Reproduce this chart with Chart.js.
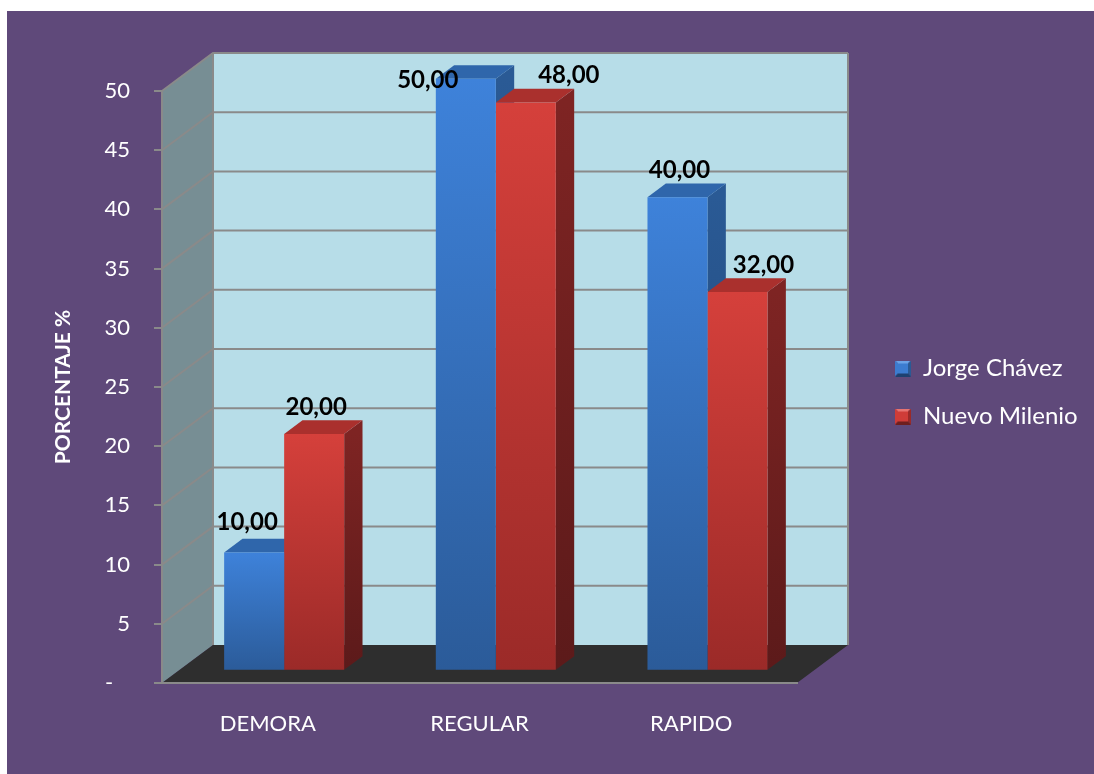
<!DOCTYPE html>
<html>
<head>
<meta charset="utf-8">
<script src="https://cdn.jsdelivr.net/npm/chart.js@4.4.1/dist/chart.umd.min.js"></script>
<style>
  html, body { margin: 0; background: #fff; }
  #marco { position: absolute; left: 7px; top: 11px; width: 1087px; height: 763px; background: #5f497a; }
</style>
</head>
<body>
<div id="marco"><canvas id="grafico"></canvas></div>
<script>
// datos
const categorias = ['DEMORA', 'REGULAR', 'RAPIDO'];
const jorgeChavez = [10, 50, 40];
const nuevoMilenio = [20, 48, 32];
const nombresSeries = ['Jorge Chávez', 'Nuevo Milenio'];
const yMax = 50;
const yPaso = 5;

// ajuste fino de las etiquetas de valor (px), por serie y categoría
const ajusteEtiquetas = [
  [[-9, -3], [-40, 28], [0, 0]],
  [[0, 0], [41, 0], [24, 0]]
];

// perspectiva oblicua: desplazamiento de la pared del fondo respecto al plano frontal
const PROF = { dx: 51, dy: -38 };
const BAR_T1 = 0.32, BAR_T2 = 0.68;   // franja de profundidad que ocupan las barras
const AREA_DERECHA = 790;
const GRIS = '#8a8a8a';

const paleta = [
  { top: '#3e82da', bottom: '#2b5b99', side: ['#2a5a95', '#1e4170'], tapa: '#2f66ab', icono: ['#6aa2e6', '#3c7cd0', '#2a5a95', '#1e4170'] },
  { top: '#d5403b', bottom: '#9b2a28', side: ['#7e2423', '#5c1a1a'], tapa: '#aa302d', icono: ['#e77370', '#cf3c38', '#9b2a28', '#6e1f1e'] }
];

Chart.defaults.font.family = 'Lato';

function relleno(c, pal) {
  const chart = c.chart;
  const y = chart.scales.y;
  if (!chart.chartArea || c.raw == null || !y) return pal.top;
  const g = chart.ctx.createLinearGradient(0, y.getPixelForValue(c.raw), 0, y.getPixelForValue(0));
  g.addColorStop(0, pal.top);
  g.addColorStop(1, pal.bottom);
  return g;
}

// icono biselado de la leyenda
function icono(pal) {
  const s = 16, m = s / 2;
  const cv = document.createElement('canvas');
  cv.width = s; cv.height = s;
  const c = cv.getContext('2d');
  const tri = (pts, col) => {
    c.fillStyle = col;
    c.beginPath();
    c.moveTo(pts[0], pts[1]); c.lineTo(pts[2], pts[3]); c.lineTo(m, m);
    c.closePath();
    c.fill();
  };
  tri([0, 0, s, 0], pal.icono[0]);
  tri([0, 0, 0, s], pal.icono[1]);
  tri([s, 0, s, s], pal.icono[2]);
  tri([0, s, s, s], pal.icono[3]);
  c.fillStyle = pal.icono[1];
  c.fillRect(3, 3, s - 6, s - 6);
  return cv;
}
const iconos = paleta.map(icono);

const fmt = v => v.toFixed(2).replace('.', ',');

const escena3d = {
  id: 'escena3d',
  beforeDraw(chart) {
    const { ctx, chartArea: a, scales: { y } } = chart;
    const { dx, dy } = PROF;
    ctx.save();
    // pared izquierda
    ctx.fillStyle = '#778e94';
    ctx.beginPath();
    ctx.moveTo(a.left, a.top);
    ctx.lineTo(a.left + dx, a.top + dy);
    ctx.lineTo(a.left + dx, a.bottom + dy);
    ctx.lineTo(a.left, a.bottom);
    ctx.closePath();
    ctx.fill();
    // pared del fondo
    ctx.fillStyle = '#b7dde8';
    ctx.fillRect(a.left + dx, a.top + dy, a.right - a.left, a.bottom - a.top);
    // piso
    ctx.fillStyle = '#2e2e2e';
    ctx.beginPath();
    ctx.moveTo(a.left, a.bottom);
    ctx.lineTo(a.right, a.bottom);
    ctx.lineTo(a.right + dx, a.bottom + dy);
    ctx.lineTo(a.left + dx, a.bottom + dy);
    ctx.closePath();
    ctx.fill();
    // líneas de división
    ctx.strokeStyle = GRIS;
    ctx.lineWidth = 2;
    y.ticks.forEach(t => {
      if (t.value === 0) return;
      const py = y.getPixelForValue(t.value);
      ctx.beginPath();
      ctx.moveTo(a.left, py);
      ctx.lineTo(a.left + dx, py + dy);
      ctx.lineTo(a.right + dx, py + dy);
      ctx.stroke();
    });
    ctx.beginPath();
    ctx.moveTo(a.right + dx, a.top + dy);
    ctx.lineTo(a.right + dx, a.bottom + dy);
    ctx.moveTo(a.left + dx, a.top + dy);
    ctx.lineTo(a.left + dx, a.bottom + dy);
    ctx.stroke();
    ctx.restore();
  },
  beforeDatasetsDraw(chart) {
    const { ctx } = chart;
    const fx = BAR_T1 * PROF.dx, fy = BAR_T1 * PROF.dy;
    const bx = (BAR_T2 - BAR_T1) * PROF.dx, by = (BAR_T2 - BAR_T1) * PROF.dy;
    ctx.save();
    chart.data.datasets.forEach((ds, i) => {
      const pal = paleta[i];
      chart.getDatasetMeta(i).data.forEach(el => {
        const { x, y, base, width } = el.getProps(['x', 'y', 'base', 'width'], true);
        const l = x - width / 2 + fx, r = x + width / 2 + fx;
        const t = y + fy, b = base + fy;
        // cara lateral
        const g = ctx.createLinearGradient(0, t, 0, b);
        g.addColorStop(0, pal.side[0]);
        g.addColorStop(1, pal.side[1]);
        ctx.fillStyle = g;
        ctx.beginPath();
        ctx.moveTo(r, t);
        ctx.lineTo(r + bx, t + by);
        ctx.lineTo(r + bx, b + by);
        ctx.lineTo(r, b);
        ctx.closePath();
        ctx.fill();
        // tapa superior
        ctx.fillStyle = pal.tapa;
        ctx.beginPath();
        ctx.moveTo(l, t);
        ctx.lineTo(r, t);
        ctx.lineTo(r + bx, t + by);
        ctx.lineTo(l + bx, t + by);
        ctx.closePath();
        ctx.fill();
      });
    });
    ctx.restore();
    // las caras frontales las dibuja Chart.js, desplazadas a su profundidad
    ctx.save();
    ctx.translate(fx, fy);
  },
  afterDatasetsDraw(chart) {
    const { ctx } = chart;
    ctx.restore();
    const fx = BAR_T1 * PROF.dx, fy = BAR_T1 * PROF.dy;
    ctx.save();
    ctx.font = 'bold 24px Lato';
    ctx.fillStyle = '#000';
    ctx.textAlign = 'center';
    ctx.textBaseline = 'middle';
    chart.data.datasets.forEach((ds, i) => {
      chart.getDatasetMeta(i).data.forEach((el, j) => {
        const [nx, ny] = ajusteEtiquetas[i][j];
        ctx.fillText(fmt(ds.data[j]), el.x + fx + 2 + nx, el.y + fy - 27 + ny);
      });
    });
    ctx.restore();
  }
};

new Chart(document.getElementById('grafico'), {
  type: 'bar',
  data: {
    labels: categorias,
    datasets: [
      { label: nombresSeries[0], data: jorgeChavez, backgroundColor: c => relleno(c, paleta[0]), clip: false },
      { label: nombresSeries[1], data: nuevoMilenio, backgroundColor: c => relleno(c, paleta[1]), clip: false }
    ]
  },
  options: {
    responsive: true,
    maintainAspectRatio: false,
    animation: false,
    categoryPercentage: 0.567,
    barPercentage: 1,
    borderWidth: 0,
    layout: { padding: { top: 0, left: 0, right: 9, bottom: 0 } },
    plugins: {
      tooltip: { enabled: false },
      legend: {
        position: 'right',
        maxWidth: 214,
        labels: {
          color: '#fff',
          font: { size: 24 },
          boxWidth: 16,
          boxHeight: 16,
          padding: 24,
          usePointStyle: true,
          generateLabels: chart => Chart.defaults.plugins.legend.labels.generateLabels(chart).map((it, i) =>
            Object.assign(it, { pointStyle: iconos[i] }))
        }
      }
    },
    scales: {
      x: {
        grid: { display: true, drawOnChartArea: false, drawTicks: false },
        border: { display: true, color: GRIS, width: 2 },
        ticks: { color: '#fff', font: { size: 22 }, padding: 28 },
        afterFit: s => { s.height = 91; }
      },
      margenSup: {
        type: 'linear',
        axis: 'x',
        position: 'top',
        display: true,
        grid: { display: false },
        border: { display: false },
        ticks: { display: false },
        afterFit: s => { s.height = 80; }
      },
      y: {
        min: 0,
        max: yMax,
        ticks: {
          stepSize: yPaso,
          color: '#fff',
          font: { size: 22 },
          padding: 24,
          callback: v => v === 0 ? '-   ' : v
        },
        grid: { drawOnChartArea: false, color: GRIS, lineWidth: 2, tickLength: 8 },
        border: { color: GRIS, width: 2 },
        title: {
          display: true,
          text: 'PORCENTAJE %',
          color: '#fff',
          font: { size: 21, weight: 'bold' },
          padding: { top: 44, bottom: 0 }
        },
        afterFit: s => { s.width = 155; }
      },
      hueco: {
        position: 'right',
        display: true,
        grid: { display: false },
        border: { display: false },
        ticks: { display: false },
        afterFit: s => { s.width = Math.max(0, s.chart.width - 9 - s.chart.legend.width - AREA_DERECHA); }
      }
    }
  },
  plugins: [escena3d]
});
</script>
</body>
</html>
